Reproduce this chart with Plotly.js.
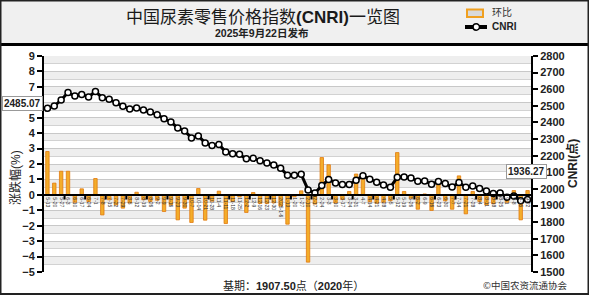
<!DOCTYPE html>
<html><head><meta charset="utf-8">
<script src="https://cdn.plot.ly/plotly-3.0.1.min.js"></script>
<style>html,body{margin:0;padding:0;background:#fff}#chart{width:589px;height:295px}</style>
</head><body><div id="chart"></div>
<script>
const dates = ['5-13','5-20','5-27','6-3','6-10','6-17','6-24','7-1','7-8','7-15','7-22','7-29','8-5','8-12','8-19','8-26','9-2','9-9','9-16','9-23','9-30','10-7','10-14','10-21','10-28','11-4','11-11','11-18','11-25','12-2','12-9','12-16','12-23','12-30','2025-1-6','1-13','1-20','1-27','2-10','2-17','2-24','3-3','3-10','3-17','3-24','3-31','4-7','4-14','4-21','4-28','5-5','5-12','5-19','5-26','6-2','6-9','6-16','6-23','6-30','7-7','7-14','7-21','7-28','8-4','8-11','8-18','8-25','9-1','9-8','9-15','9-22'];
const changePct = [2.81,0.76,1.53,1.53,-0.48,0.39,-0.43,1.06,-1.3,-0.32,-0.65,-0.86,-0.52,0.17,-0.32,-0.43,-0.35,-1.08,-0.65,-1.62,-0.86,-1.79,0.41,-1.64,-0.41,0.24,-1.86,-0.43,-0.13,-1.14,0.15,-0.56,-0.56,-0.52,-0.73,-1.9,-0.13,0.26,-4.36,-0.6,2.42,1.95,-0.52,-0.3,0.22,1.35,1.25,-0.45,-0.54,-0.48,-0.39,2.74,0.22,-0.22,-0.93,0.06,-1.01,0.69,-0.39,-0.93,1.23,-1.23,0.22,-0.43,-0.65,-0.58,0.11,-0.48,0.28,-1.62,0.28];
const cnri = [2485.07,2499,2535,2580,2559,2569,2553,2586,2549,2539,2519,2497,2481,2487,2475,2463,2447,2423,2403,2367,2349,2307,2319,2277,2262,2268,2222,2212,2208,2182,2184,2170,2156,2144,2124,2082,2082,2088,1994,1976,2020,2056,2036,2026,2026,2052,2080,2058,2040,2024,2010,2070,2072,2066,2046,2048,2028,2044,2032,2012,2038,2010,2018,2002,1987,1972,1976,1950,1957,1929,1936.27];
const seriesNames = ['环比', 'CNRI'];
const baseValue = '1907.50';
const baseYear = '2020';
const pubDate = '2025年9月22日发布';

// layout geometry helpers (pixel -> paper)
const L = 44, R = 531, T = 56, B = 272, W = 589, H = 295;
const px = X => (X - L) / (R - L);
const py = Y => (B - Y) / (B - T);
const LAT = 'Liberation Sans, Arial, Noto Sans CJK SC, sans-serif';
const BAR_FILL = '#f3ad2a', BAR_LINE = '#e2780e';

const shapes = [];
// header background
shapes.push({type:'rect', xref:'paper', yref:'paper', x0:px(0), x1:px(W), y0:py(44), y1:py(0), fillcolor:'#f0f0f0', line:{width:0}, layer:'below'});
// alternating bands
for (let k = 0; k < 28; k++) {
  if (k % 2 === 0) {
    shapes.push({type:'rect', xref:'paper', yref:'y', x0:0, x1:1, y0:9 - 0.5*(k+1), y1:9 - 0.5*k, fillcolor:'#eeeeee', line:{width:0}, layer:'below'});
  }
}
// x boundary ticks every 3 categories
for (let t = 2.5; t < dates.length; t += 3) {
  shapes.push({type:'line', xref:'x', yref:'y', x0:t, x1:t, y0:0, y1:-0.3, line:{color:'#000', width:2}});
}
// header separator & outer frame
shapes.push({type:'line', xref:'paper', yref:'paper', x0:px(0), x1:px(W), y0:py(44.5), y1:py(44.5), line:{color:'#000', width:3}});
shapes.push({type:'rect', xref:'paper', yref:'paper', x0:px(0.5), x1:px(W-0.5), y0:py(H-1), y1:py(0.5), line:{color:'#222', width:2}});
// legend symbols
shapes.push({type:'rect', xref:'paper', yref:'paper', x0:px(467), x1:px(483), y0:py(17), y1:py(9.5), fillcolor:'#d9d9d9', line:{color:'#f0a020', width:2}});
shapes.push({type:'line', xref:'paper', yref:'paper', x0:px(465), x1:px(487), y0:py(27), y1:py(27), line:{color:'#000', width:4}});
shapes.push({type:'circle', xref:'paper', yref:'paper', x0:px(473), x1:px(479.5), y0:py(30.2), y1:py(23.8), fillcolor:'#fff', line:{color:'#000', width:1.5}});

const traces = [
  {type:'bar', name:seriesNames[0], x:dates, y:changePct, yaxis:'y', width:0.5,
   marker:{color:BAR_FILL, line:{color:BAR_LINE, width:0.8}}},
  {type:'scatter', mode:'lines+markers', name:seriesNames[1], x:dates, y:cnri, yaxis:'y2',
   line:{color:'#000', width:3}, marker:{symbol:'circle', size:6, color:'#fff', line:{color:'#000', width:1.5}}}
];

const layout = {
  width:W, height:H, margin:{l:L, r:W-R, t:T, b:H-B, pad:0, autoexpand:false},
  paper_bgcolor:'#fff', plot_bgcolor:'#fff',
  showlegend:false,
  title:{text:'中国尿素零售价格指数<b>(CNRI)</b>一览图', font:{size:17, family:LAT, color:'#1a1a1a'}, x:263/W, xref:'container', xanchor:'center', y:1-17/H, yref:'container', yanchor:'middle'},
  xaxis:{type:'category', anchor:'free', position:5/14, range:[-0.5, dates.length-0.5], showline:true, linecolor:'#000', linewidth:2.5,
    ticks:'', tickangle:90, tickfont:{size:5, color:'#333', family:LAT}, showgrid:false, zeroline:false, tickmode:'array', tickvals:dates, ticktext:dates},
  yaxis:{range:[-5,9], tick0:0, dtick:1, showline:true, linecolor:'#000', linewidth:2, ticks:'outside', ticklen:5, tickwidth:2, tickcolor:'#000',
    tickfont:{size:11, family:LAT, weight:'bold', color:'#222'}, showgrid:true, gridcolor:'#c8c8c8', gridwidth:1,
    minor:{dtick:0.5, showgrid:true, gridcolor:'#d2d2d2', gridwidth:1}, zeroline:false},
  yaxis2:{overlaying:'y', side:'right', range:[1500,2800], dtick:100, showline:true, linecolor:'#000', linewidth:2, ticks:'outside', ticklen:5, tickwidth:2, tickcolor:'#000',
    tickfont:{size:11, family:LAT, weight:'bold', color:'#222'}, showgrid:false, zeroline:false},
  bargap:0.5,
  shapes:shapes,
  annotations:[
    {text:'<b>'+pubDate+'</b>', xref:'paper', yref:'paper', x:px(261), y:py(33), showarrow:false, font:{size:10.5, family:LAT, color:'#222'}, xanchor:'center', yanchor:'middle'},
    {text:seriesNames[0], xref:'paper', yref:'paper', x:px(490), y:py(13), showarrow:false, font:{size:10, family:LAT, color:'#333'}, xanchor:'left', yanchor:'middle'},
    {text:'<b>'+seriesNames[1]+'</b>', xref:'paper', yref:'paper', x:px(490), y:py(26.5), showarrow:false, font:{size:10, family:LAT, color:'#222'}, xanchor:'left', yanchor:'middle'},
    {text:'<b>'+cnri[0].toFixed(2)+'</b>', xref:'paper', yref:'paper', x:px(22.7), y:py(103), showarrow:false, font:{size:10, family:LAT, color:'#222'}, bgcolor:'#fff', bordercolor:'#999', borderwidth:1, borderpad:1, xanchor:'center', yanchor:'middle'},
    {text:'<b>'+cnri[cnri.length-1].toFixed(2)+'</b>', xref:'paper', yref:'paper', x:px(526), y:py(171.5), showarrow:false, font:{size:10, family:LAT, color:'#222'}, bgcolor:'#fff', bordercolor:'#999', borderwidth:1, borderpad:1, xanchor:'center', yanchor:'middle'},
    {text:'涨跌幅(%)', xref:'paper', yref:'paper', x:px(15), y:py(178), showarrow:false, textangle:-90, font:{size:12, family:LAT, color:'#222'}, xanchor:'center', yanchor:'middle'},
    {text:'<b>CNRI(点)</b>', xref:'paper', yref:'paper', x:px(572), y:py(164), showarrow:false, textangle:-90, font:{size:12, family:LAT, color:'#222'}, xanchor:'center', yanchor:'middle'},
    {text:'基期：<b>'+baseValue+'</b>点（<b>'+baseYear+'</b>年）', xref:'paper', yref:'paper', x:px(293), y:py(285), showarrow:false, font:{size:11, family:LAT, color:'#222'}, xanchor:'center', yanchor:'middle'},
    {text:'©中国农资流通协会', xref:'paper', yref:'paper', x:px(525), y:py(285), showarrow:false, font:{size:9.5, family:'Noto Sans CJK SC, sans-serif', color:'#333'}, xanchor:'center', yanchor:'middle'}
  ]
};
Plotly.newPlot('chart', traces, layout, {staticPlot:true, displayModeBar:false});
</script></body></html>
